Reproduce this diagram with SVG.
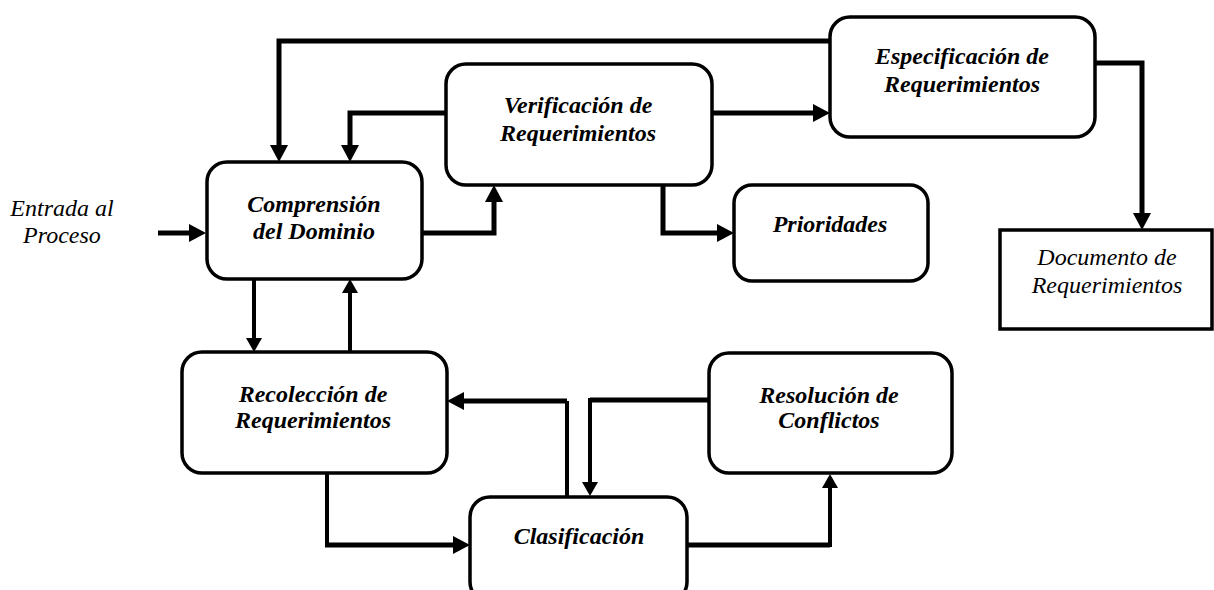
<svg xmlns="http://www.w3.org/2000/svg" width="1214" height="590" viewBox="0 0 1214 590">
<style>
.box{fill:#fff;stroke:#000;stroke-width:3.5}
.lbl{font-family:"Liberation Serif","Times New Roman",serif;font-style:italic;font-weight:bold;font-size:24px;fill:#000;text-anchor:middle}
.plain{font-family:"Liberation Serif","Times New Roman",serif;font-style:italic;font-size:24px;fill:#000;text-anchor:middle}
.thick{fill:none;stroke:#000;stroke-width:5;stroke-linejoin:miter}
.thin{fill:none;stroke:#000;stroke-width:4;stroke-linejoin:miter}
</style>
<defs>
<marker id="ah" markerUnits="userSpaceOnUse" markerWidth="18" markerHeight="18" refX="0" refY="9" orient="auto" overflow="visible">
<path d="M0,0 L17,9 L0,18 z" fill="#000"/>
</marker>
<marker id="ahs" markerUnits="userSpaceOnUse" markerWidth="16" markerHeight="16" refX="0" refY="8" orient="auto" overflow="visible">
<path d="M0,0 L14,8 L0,16 z" fill="#000"/>
</marker>
</defs>
<rect width="1214" height="590" fill="#fff"/>
<g id="connectors">
<path class="thick" d="M158,233 H189" marker-end="url(#ah)"/>
<path class="thick" d="M830,41 H279 V145" marker-end="url(#ah)"/>
<path class="thick" d="M446,113 H350 V145" marker-end="url(#ah)"/>
<path class="thick" d="M712,113 H813" marker-end="url(#ah)"/>
<path class="thick" d="M422,233 H494 V202" marker-end="url(#ah)"/>
<path class="thick" d="M663,185 V233 H717" marker-end="url(#ah)"/>
<path class="thick" d="M1095,63 H1142 V213" marker-end="url(#ah)"/>
<path class="thin" d="M254,279 V338" marker-end="url(#ahs)"/>
<path class="thin" d="M350,352 V293" marker-end="url(#ahs)"/>
<path class="thin" d="M567,497 V401"/>
<path class="thick" d="M567,401 H464" marker-end="url(#ah)"/>
<path class="thick" d="M709,400 H590"/>
<path class="thin" d="M590,398 V482" marker-end="url(#ahs)"/>
<path class="thin" d="M327,473 V545"/>
<path class="thick" d="M325,545 H453" marker-end="url(#ah)"/>
<path class="thick" d="M687,545 H830"/>
<path class="thin" d="M830,547 V488" marker-end="url(#ahs)"/>
</g>
<g id="entrada">
<text class="plain" x="62" y="216">Entrada al</text>
<text class="plain" x="62" y="243">Proceso</text>
</g>
<g id="comprension">
<rect class="box" x="207" y="162" width="215" height="117" rx="20"/>
<text class="lbl" x="314" y="212">Comprensión</text>
<text class="lbl" x="314" y="239">del Dominio</text>
</g>
<g id="verificacion">
<rect class="box" x="446" y="64" width="266" height="121" rx="20"/>
<text class="lbl" x="578" y="113">Verificación de</text>
<text class="lbl" x="578" y="141">Requerimientos</text>
</g>
<g id="especificacion">
<rect class="box" x="830" y="17" width="265" height="120" rx="20"/>
<text class="lbl" x="962" y="64">Especificación de</text>
<text class="lbl" x="962" y="92">Requerimientos</text>
</g>
<g id="prioridades">
<rect class="box" x="734" y="185" width="194" height="96" rx="18"/>
<text class="lbl" x="830" y="232">Prioridades</text>
</g>
<g id="documento">
<rect class="box" x="1000" y="230" width="212" height="99"/>
<text class="plain" x="1107" y="265">Documento de</text>
<text class="plain" x="1107" y="293">Requerimientos</text>
</g>
<g id="recoleccion">
<rect class="box" x="182" y="352" width="265" height="121" rx="20"/>
<text class="lbl" x="313" y="402">Recolección de</text>
<text class="lbl" x="313" y="428">Requerimientos</text>
</g>
<g id="resolucion">
<rect class="box" x="709" y="353" width="243" height="120" rx="20"/>
<text class="lbl" x="829" y="403">Resolución de</text>
<text class="lbl" x="829" y="428">Conflictos</text>
</g>
<g id="clasificacion">
<rect class="box" x="470" y="497" width="217" height="105" rx="20"/>
<text class="lbl" x="579" y="544">Clasificación</text>
</g>
</svg>
